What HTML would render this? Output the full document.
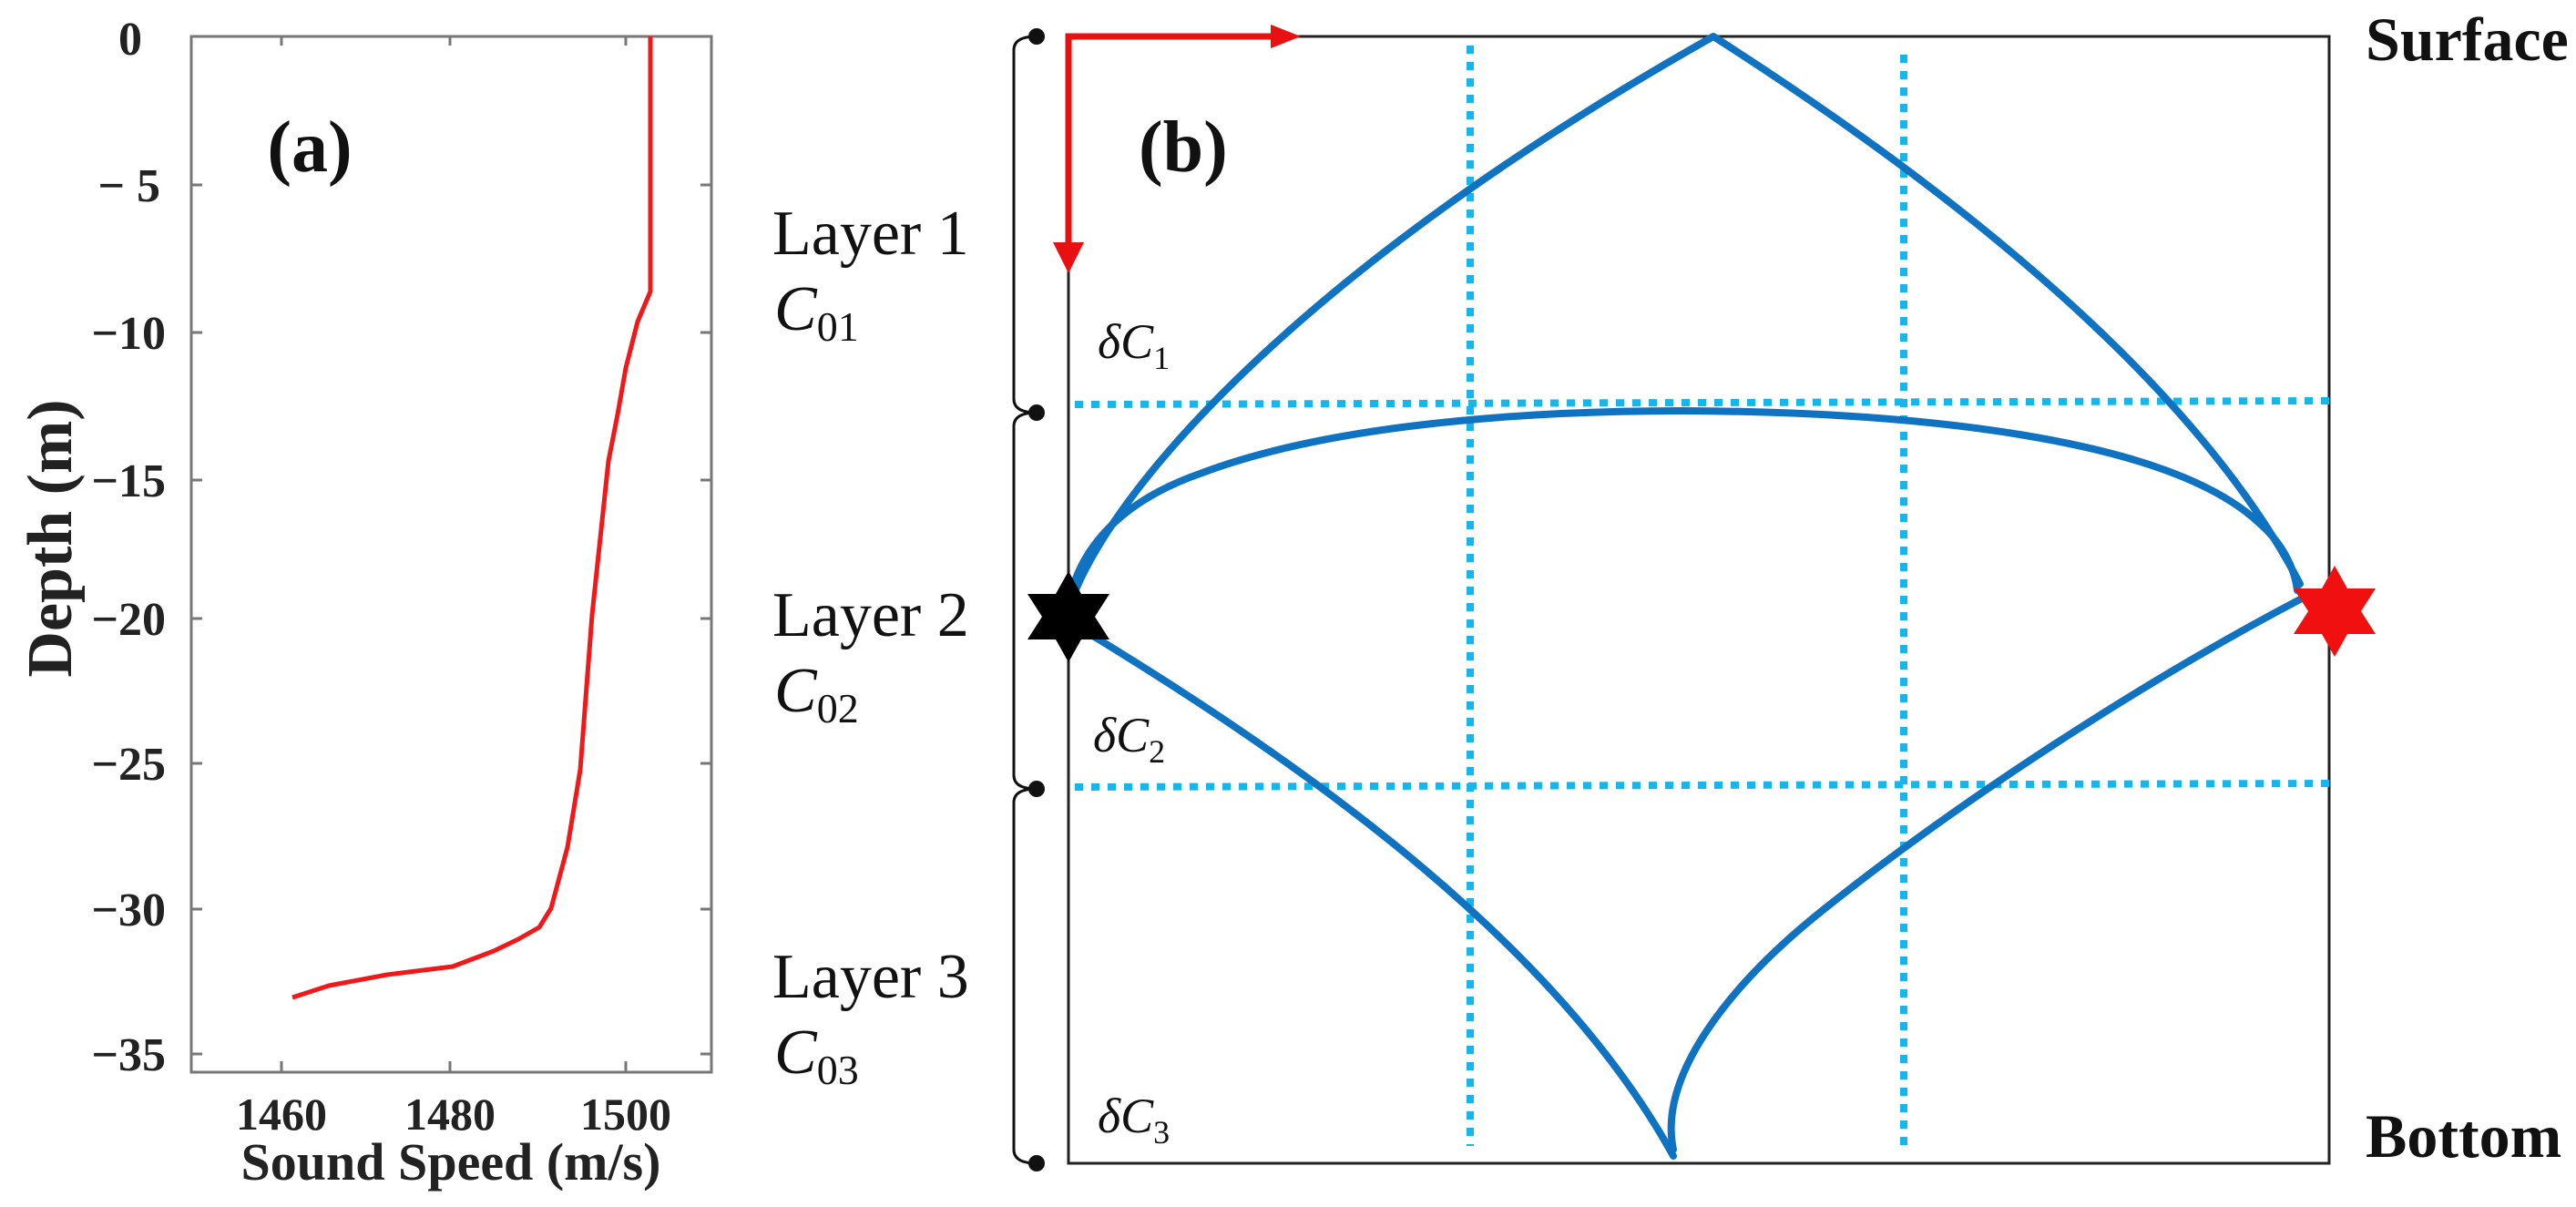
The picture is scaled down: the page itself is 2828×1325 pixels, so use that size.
<!DOCTYPE html>
<html><head><meta charset="utf-8"><style>html,body{margin:0;padding:0;background:#fff}svg{display:block}</style></head><body>
<svg width="2828" height="1325" viewBox="0 0 2828 1325" xmlns="http://www.w3.org/2000/svg" font-family="Liberation Serif, serif">
<rect width="2828" height="1325" fill="#fff"/>
<!-- panel a -->
<rect x="210" y="40" width="571" height="1137" fill="none" stroke="#777" stroke-width="3"/>
<g stroke="#777" stroke-width="3">
<line x1="210" y1="203" x2="222" y2="203"/><line x1="210" y1="365" x2="222" y2="365"/><line x1="210" y1="527" x2="222" y2="527"/><line x1="210" y1="679" x2="222" y2="679"/><line x1="210" y1="838" x2="222" y2="838"/><line x1="210" y1="998" x2="222" y2="998"/><line x1="210" y1="1157" x2="222" y2="1157"/>
<line x1="769" y1="203" x2="781" y2="203"/><line x1="769" y1="365" x2="781" y2="365"/><line x1="769" y1="527" x2="781" y2="527"/><line x1="769" y1="679" x2="781" y2="679"/><line x1="769" y1="838" x2="781" y2="838"/><line x1="769" y1="998" x2="781" y2="998"/><line x1="769" y1="1157" x2="781" y2="1157"/>
<line x1="309" y1="1177" x2="309" y2="1165"/><line x1="494" y1="1177" x2="494" y2="1165"/><line x1="687" y1="1177" x2="687" y2="1165"/>
<line x1="309" y1="40" x2="309" y2="50"/><line x1="494" y1="40" x2="494" y2="50"/><line x1="687" y1="40" x2="687" y2="50"/>
</g>
<g font-size="52" font-weight="bold" fill="#222" text-anchor="end">
<text x="156" y="60">0</text><text x="176" y="221">− 5</text><text x="182" y="383">−10</text><text x="182" y="545">−15</text><text x="182" y="697">−20</text><text x="182" y="856">−25</text><text x="182" y="1016">−30</text><text x="182" y="1175">−35</text>
</g>
<g font-size="50" font-weight="bold" fill="#222" text-anchor="middle">
<text x="309" y="1240">1460</text><text x="494" y="1240">1480</text><text x="687" y="1240">1500</text>
<text x="495" y="1295" font-size="58">Sound Speed (m/s)</text>
<text transform="translate(78,591) rotate(-90)" font-size="70">Depth (m)</text>
<text x="340" y="188" font-size="80" fill="#111">(a)</text>
</g>
<polyline fill="none" stroke="#f01818" stroke-width="5" stroke-linejoin="round" points="714,40 714,320 700,353 687,404 678,455 668,506 650,675 637,845 623,930 605,997 592,1018 569,1031 542,1044 497,1061 425,1070 361,1082 321,1095"/>
<!-- labels b -->
<g font-size="70" fill="#111">
<text x="848" y="279">Layer 1</text><text x="848" y="698">Layer 2</text><text x="848" y="1095">Layer 3</text>
<g font-style="italic"><text x="850" y="362">C<tspan font-style="normal" font-size="46" dy="12">01</tspan></text>
<text x="850" y="781">C<tspan font-style="normal" font-size="46" dy="12">02</tspan></text>
<text x="850" y="1178">C<tspan font-style="normal" font-size="46" dy="12">03</tspan></text></g>
</g>
<g font-size="54" font-style="italic" fill="#111">
<text x="1205" y="393">δC<tspan font-style="normal" font-size="36" dy="12">1</tspan></text>
<text x="1200" y="825">δC<tspan font-style="normal" font-size="36" dy="12">2</tspan></text>
<text x="1205" y="1243">δC<tspan font-style="normal" font-size="36" dy="12">3</tspan></text>
</g>
<!-- bracket -->
<g stroke="#111" stroke-width="3" fill="none">
<path d="M1138,40 Q1113,40 1113,55 L1113,438 Q1113,453 1138,453 Q1113,453 1113,468 L1113,851 Q1113,866 1138,866 Q1113,866 1113,881 L1113,1262 Q1113,1277 1138,1277"/>
</g>
<g fill="#111"><circle cx="1138" cy="40" r="9"/><circle cx="1138" cy="453" r="9"/><circle cx="1138" cy="866" r="9"/><circle cx="1138" cy="1277" r="9"/></g>
<!-- box b -->
<rect x="1173" y="40" width="1384" height="1237" fill="none" stroke="#222" stroke-width="3"/>
<g stroke="#19b4ea" stroke-width="8" stroke-dasharray="9,9">
<line x1="1180" y1="444" x2="2557" y2="440"/><line x1="1180" y1="864" x2="2557" y2="860"/>
<line x1="1614" y1="50" x2="1614" y2="1258"/><line x1="2090" y1="60" x2="2090" y2="1265"/>
</g>
<!-- rays -->
<g fill="none" stroke="#0f73c2" stroke-width="8" stroke-linecap="round" stroke-linejoin="round">
<path d="M1176,660 C1220,540 1420,300 1881,40 C2100,180 2400,400 2525,641"/>
<path d="M1176,650 C1190,600 1230,550 1320,519 C1450,470 1650,451 1848,451 C2100,452 2380,480 2480,574 C2510,600 2520,630 2522,648"/>
<path d="M1190,692 C1400,820 1700,1020 1837,1269"/>
<path d="M1837,1262 C1820,1180 1900,1080 2000,1000 C2150,880 2350,750 2525,658"/>
</g>
<!-- red arrows -->
<g stroke="#e81010" stroke-width="7" fill="none"><path d="M1173,275 L1173,40 L1400,40"/></g>
<polygon points="1395,27 1428,40 1395,53" fill="#e81010"/>
<polygon points="1156,266 1173,300 1190,266" fill="#e81010"/>
<!-- stars -->
<polygon transform="translate(1173,677)" fill="#000" points="0,-50 14,-25 45,-25 29,0 45,25 14,25 0,50 -14,25 -45,25 -29,0 -45,-25 -14,-25"/>
<polygon transform="translate(2563,671)" fill="#f01010" points="0,-50 14,-25 45,-25 29,0 45,25 14,25 0,50 -14,25 -45,25 -29,0 -45,-25 -14,-25"/>
<g font-size="68" font-weight="bold" fill="#111">
<text x="2597" y="66">Surface</text><text x="2597" y="1270">Bottom</text>
<text x="1250" y="188" font-size="80">(b)</text>
</g>
</svg>
</body></html>
